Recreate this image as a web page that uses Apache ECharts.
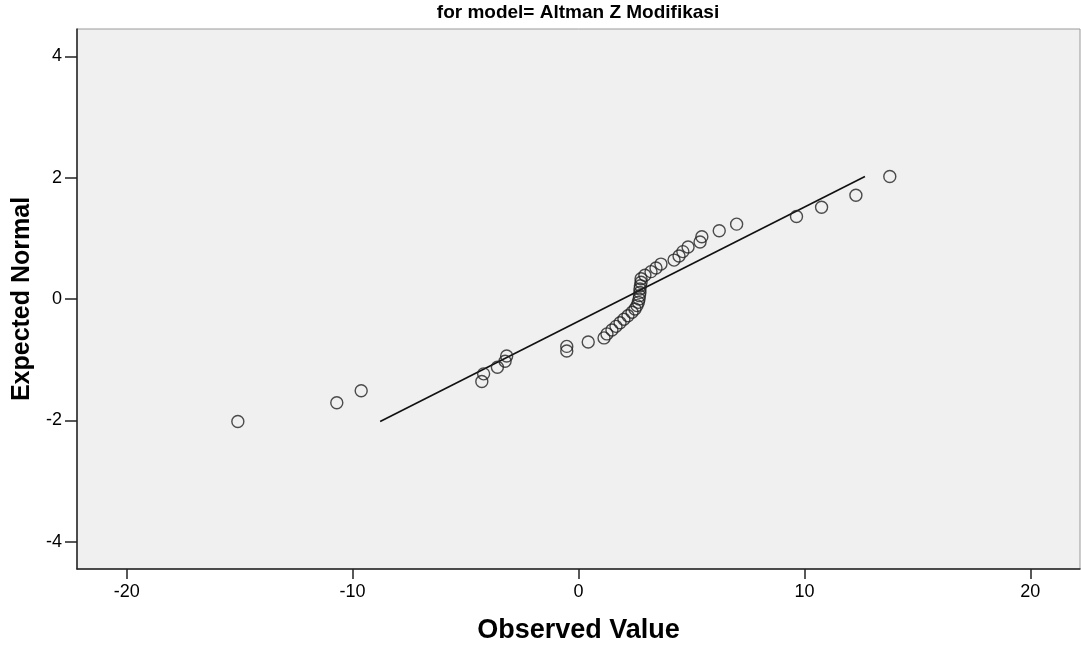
<!DOCTYPE html>
<html>
<head>
<meta charset="utf-8">
<script src="https://cdn.jsdelivr.net/npm/echarts@6/dist/echarts.min.js"></script>
<style>
html,body{margin:0;padding:0;background:#fff;}
#chart{width:1081px;height:650px;}
</style>
</head>
<body>
<div id="chart"></div>
<script>
var observedValues = [
  -15.08, -10.70, -9.62, -4.28, -4.20, -3.59, -3.25, -3.18, -0.52, -0.52,
  0.43, 1.13, 1.26, 1.48, 1.66, 1.84, 2.01, 2.19, 2.37, 2.50,
  2.59, 2.65, 2.68, 2.70, 2.72, 2.72, 2.74, 2.77, 2.77, 2.94,
  3.21, 3.43, 3.65, 4.23, 4.45, 4.62, 4.85, 5.38, 5.46, 6.23,
  7.00, 9.65, 10.76, 12.28, 13.78
];
// Expected normal values (y)
var expectedNormal = [
  -2.019, -1.711, -1.512, -1.360, -1.234, -1.125, -1.027, -0.939, -0.857, -0.781,
  -0.709, -0.641, -0.575, -0.512, -0.451, -0.391, -0.333, -0.276, -0.219, -0.164,
  -0.109, -0.055, 0.000, 0.055, 0.109, 0.164, 0.219, 0.276, 0.333, 0.391,
  0.451, 0.512, 0.575, 0.641, 0.709, 0.781, 0.857, 0.939, 1.027, 1.125,
  1.234, 1.360, 1.512, 1.711, 2.019
];
// Reference line end points
var lineX = [-8.78, 12.68];
var lineY = [-2.02, 2.02];
// Tick labels
var xTicks = [-20, -10, 0, 10, 20];
var yTicks = [-4, -2, 0, 2, 4];

var titleText = 'for model= Altman Z Modifikasi';
var xName = 'Observed Value';
var yName = 'Expected Normal';

var points = observedValues.map(function (v, i) { return [v, expectedNormal[i]]; });
var linePts = lineX.map(function (v, i) { return [v, lineY[i]]; });

var FONT = '"Liberation Sans", Arial, sans-serif';
var chart = echarts.init(document.getElementById('chart'), null, {renderer: 'canvas'});
chart.setOption({
  animation: false,
  backgroundColor: '#ffffff',
  graphic: [{
    type: 'text',
    x: 578,
    y: 13,
    style: {
      text: titleText,
      textAlign: 'center',
      textVerticalAlign: 'middle',
      fontFamily: FONT, fontSize: 19, fontWeight: 'bold', fill: '#000'
    }
  }],
  grid: {
    left: 77, right: 1, top: 29, bottom: 81,
    show: true, backgroundColor: '#f0f0f0', borderColor: '#9a9a9a', borderWidth: 1
  },
  xAxis: {
    type: 'value',
    min: -22.2, max: 22.2,
    name: xName,
    nameLocation: 'middle',
    nameGap: 48,
    nameTextStyle: {fontFamily: FONT, fontSize: 27, fontWeight: 'bold', color: '#000'},
    axisLine: {show: true, onZero: false, lineStyle: {color: '#222', width: 1.5}},
    axisTick: {show: true, length: 10, customValues: xTicks, lineStyle: {color: '#222', width: 1.5}},
    axisLabel: {customValues: xTicks, fontFamily: FONT, fontSize: 18, color: '#000', margin: 14},
    splitLine: {show: false}
  },
  yAxis: {
    type: 'value',
    min: -4.45, max: 4.45,
    name: yName,
    nameLocation: 'middle',
    nameGap: 42,
    nameTextStyle: {fontFamily: FONT, fontSize: 25, fontWeight: 'bold', color: '#000'},
    axisLine: {show: true, onZero: false, lineStyle: {color: '#222', width: 1.5}},
    axisTick: {show: true, length: 12, customValues: yTicks, lineStyle: {color: '#222', width: 1.5}},
    axisLabel: {customValues: yTicks, fontFamily: FONT, fontSize: 18, color: '#000', margin: 15},
    splitLine: {show: false}
  },
  series: [
    {
      type: 'line',
      data: linePts,
      symbol: 'none',
      lineStyle: {color: '#111', width: 1.6},
      silent: true,
      z: 2
    },
    {
      type: 'scatter',
      data: points,
      symbol: 'circle',
      symbolSize: 12,
      itemStyle: {color: 'rgba(0,0,0,0)', borderColor: '#222', borderWidth: 1.4},
      z: 3
    }
  ]
});
</script>
</body>
</html>
